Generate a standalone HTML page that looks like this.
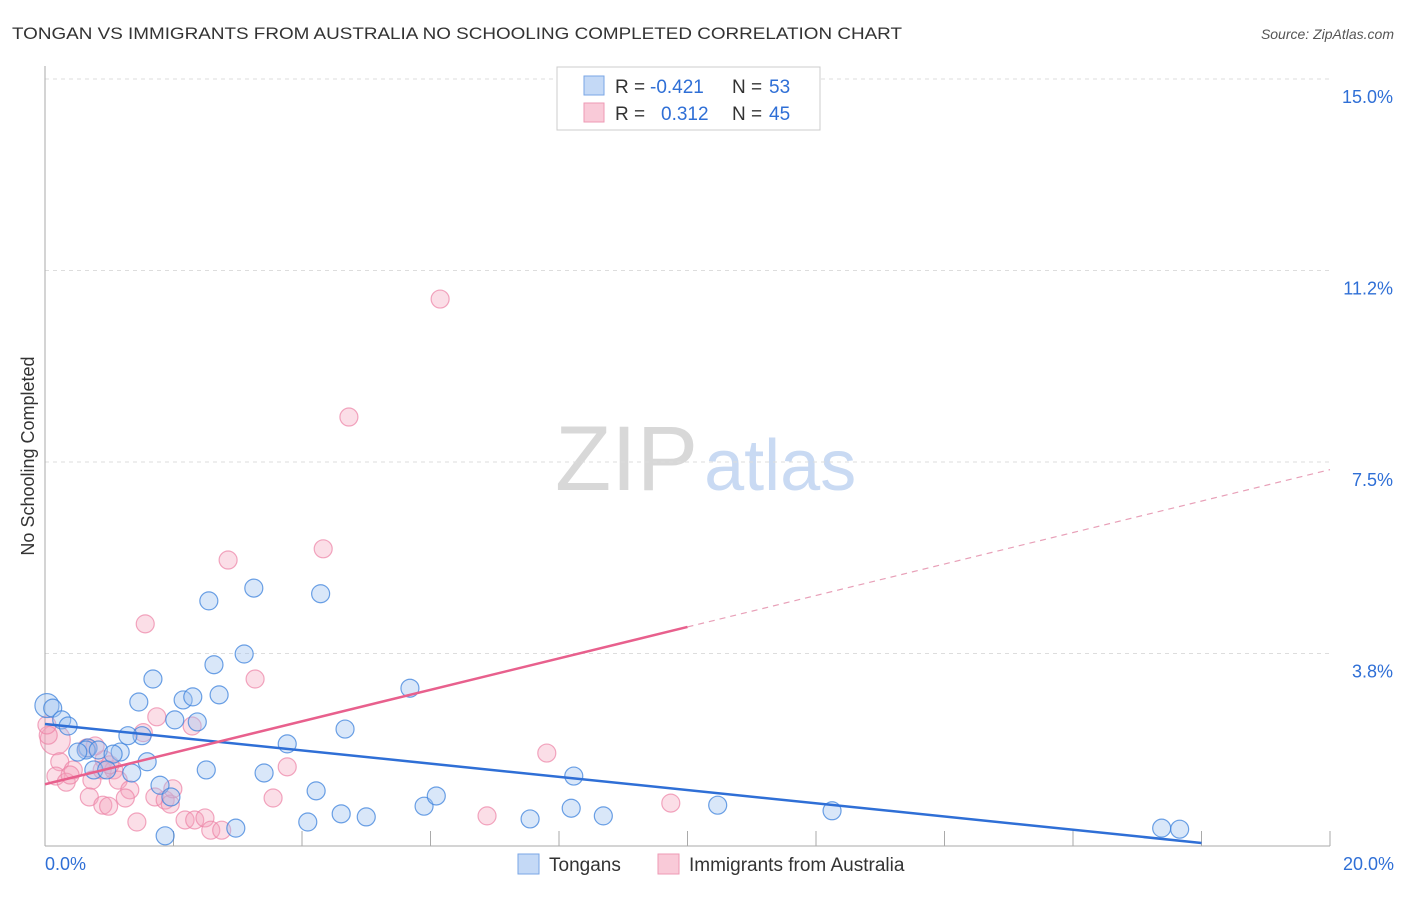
<!DOCTYPE html>
<html><head><meta charset="utf-8"><style>
body{margin:0;background:#fff;font-family:"Liberation Sans",sans-serif;}
svg text{font-family:"Liberation Sans",sans-serif;}
</style></head><body>
<svg id="chart" width="1406" height="892" viewBox="0 0 1406 892" xmlns="http://www.w3.org/2000/svg">
<text x="12" y="39" font-size="17" fill="#333" textLength="890" lengthAdjust="spacingAndGlyphs">TONGAN VS IMMIGRANTS FROM AUSTRALIA NO SCHOOLING COMPLETED CORRELATION CHART</text>
<text x="1394" y="39" font-size="14" fill="#555" text-anchor="end" font-style="italic">Source: ZipAtlas.com</text>
<text x="555" y="490" font-size="92" fill="#d8d8d8" font-family="Liberation Serif">ZIP<tspan fill="#c9daf3" font-family="Liberation Sans" font-size="72" dx="6">atlas</tspan></text>
<text transform="translate(34,456) rotate(-90)" font-size="18" fill="#333" text-anchor="middle">No Schooling Completed</text>
<g id="grid"></g><g id="axes"></g><g id="pts"></g><g id="trends"></g>
<g>
<rect x="557" y="67" width="263" height="63" fill="#fff" stroke="#ccc"/>
<rect x="584" y="76" width="20" height="19" fill="#c4d9f6" stroke="#7aa6e6"/>
<rect x="584" y="103" width="20" height="19" fill="#f9cad8" stroke="#ee9ab4"/>
<text x="615" y="93" font-size="19" fill="#333">R =</text>
<text x="650" y="93" font-size="19" fill="#2f6fd6">-0.421</text>
<text x="732" y="93" font-size="19" fill="#333">N =</text>
<text x="769" y="93" font-size="19" fill="#2f6fd6">53</text>
<text x="615" y="120" font-size="19" fill="#333">R =</text>
<text x="661" y="120" font-size="19" fill="#2f6fd6">0.312</text>
<text x="732" y="120" font-size="19" fill="#333">N =</text>
<text x="769" y="120" font-size="19" fill="#2f6fd6">45</text>
</g>
<g>
<rect x="518" y="854" width="21" height="20" fill="#c4d9f6" stroke="#7aa6e6"/>
<text x="549" y="871" font-size="19" fill="#333">Tongans</text>
<rect x="658" y="854" width="21" height="20" fill="#f9cad8" stroke="#ee9ab4"/>
<text x="689" y="871" font-size="19" fill="#333">Immigrants from Australia</text>
</g>
</svg>
<script>
const yTicks=[3.75,7.5,11.25,15];
const yTickLabels=["3.8%","7.5%","11.2%","15.0%"];
const xTickLabels=["0.0%","20.0%"];
const blueX=[0.03,0.12,0.26,0.36,0.67,0.64,0.51,0.83,1.17,1.06,0.76,0.96,1.35,1.51,1.46,1.68,1.59,1.29,2.02,2.15,2.30,2.37,2.63,2.55,2.71,3.10,3.25,2.51,1.79,1.96,1.87,2.97,3.41,3.77,4.29,4.67,4.22,4.09,4.61,5.0,5.68,5.90,6.09,7.55,8.19,8.23,8.69,10.47,12.25,17.38,17.66];
const blueY=[2.73,2.68,2.45,2.33,1.90,1.86,1.82,1.86,1.82,1.78,1.47,1.47,1.41,2.14,2.80,3.25,1.63,2.14,2.45,2.84,2.90,2.41,3.53,4.78,2.94,3.74,5.03,1.47,1.17,0.94,0.18,0.33,1.41,1.98,4.92,2.27,1.06,0.45,0.61,0.55,3.07,0.76,0.96,0.51,0.72,1.35,0.57,0.78,0.67,0.33,0.31];
const blueR=[12,9,9,9,9,9,9,9,9,9,9,9,9,9,9,9,9,9,9,9,9,9,9,9,9,9,9,9,9,9,9,9,9,9,9,9,9,9,9,9,9,9,9,9,9,9,9,9,9,9,9];
const pinkX=[6.15,4.73,4.33,2.85,1.56,3.27,1.74,2.29,1.53,0.16,0.05,0.23,0.65,0.92,0.44,0.17,0.33,0.73,0.89,1.07,1.14,0.69,0.90,0.99,1.32,1.25,1.71,1.87,1.95,1.99,2.18,2.33,2.49,2.58,2.75,1.43,3.55,3.77,6.88,7.81,9.74,0.03,0.78,1.01,0.39];
const pinkY=[10.69,8.38,5.80,5.58,4.33,3.25,2.51,2.33,2.20,2.06,2.15,1.63,1.90,1.67,1.47,1.35,1.23,1.27,1.47,1.47,1.27,0.94,0.78,0.76,1.08,0.92,0.94,0.88,0.80,1.10,0.49,0.49,0.53,0.29,0.29,0.45,0.92,1.53,0.57,1.80,0.82,2.35,1.94,1.57,1.37];
const pinkR=[9,9,9,9,9,9,9,9,9,15,9,9,9,9,9,9,9,9,9,9,9,9,9,9,9,9,9,9,9,9,9,9,9,9,9,9,9,9,9,9,9,9,9,9,9];
const blueTrend=[0,2.37,18,0.04];
const pinkTrend=[0,1.19,10,4.27,20,7.35];
const NS="http://www.w3.org/2000/svg";
const xs=v=>45+v*64.25, ys=v=>845-v*51.07;
function mk(tag,attrs,parent){const e=document.createElementNS(NS,tag);for(const k in attrs)e.setAttribute(k,attrs[k]);document.getElementById(parent).appendChild(e);return e;}
yTicks.forEach((t,i)=>{
 const l=mk('line',{x1:45,x2:1330,y1:ys(t),y2:ys(t),stroke:'#ddd','stroke-dasharray':'4,4'},'grid');
 
 
 const tx=mk('text',{x:1393,y:ys(t)+24,'font-size':18,fill:'#2f6fd6','text-anchor':'end'},'axes');
 tx.textContent=yTickLabels[i];
 
 
});
let a=mk('line',{x1:45,x2:45,y1:66,y2:846,stroke:'#aaa'},'axes');


a=mk('line',{x1:45,x2:1330,y1:846,y2:846,stroke:'#aaa'},'axes');


for(let i=1;i<=10;i++){const t=mk('line',{x1:xs(i*2),x2:xs(i*2),y1:831,y2:846,stroke:'#aaa'},'axes');
 
 }
[[0,'start',45],[20,'end',1394]].forEach((d,i)=>{const t=mk('text',{x:d[2],y:870,'font-size':18,fill:'#2f6fd6','text-anchor':d[1]},'axes');t.textContent=xTickLabels[i];
 
 });
pinkX.forEach((v,i)=>{const c=mk('circle',{cx:xs(v),cy:ys(pinkY[i]),r:pinkR[i],fill:'rgba(244,160,185,0.35)',stroke:'rgba(236,130,165,0.7)','stroke-width':1.2},'pts');
 
 });
blueX.forEach((v,i)=>{const c=mk('circle',{cx:xs(v),cy:ys(blueY[i]),r:blueR[i],fill:'rgba(160,195,240,0.4)',stroke:'rgba(60,130,220,0.75)','stroke-width':1.2},'pts');
 
 });
let l=mk('line',{x1:xs(blueTrend[0]),y1:ys(blueTrend[1]),x2:xs(blueTrend[2]),y2:ys(blueTrend[3]),stroke:'#2f6fd6','stroke-width':2.5},'trends');


l=mk('line',{x1:xs(pinkTrend[0]),y1:ys(pinkTrend[1]),x2:xs(pinkTrend[2]),y2:ys(pinkTrend[3]),stroke:'#e8608d','stroke-width':2.5},'trends');


l=mk('line',{x1:xs(pinkTrend[2]),y1:ys(pinkTrend[3]),x2:xs(pinkTrend[4]),y2:ys(pinkTrend[5]),stroke:'#e8a0b8','stroke-width':1.2,'stroke-dasharray':'6,5'},'trends');


</script>
</body></html>
